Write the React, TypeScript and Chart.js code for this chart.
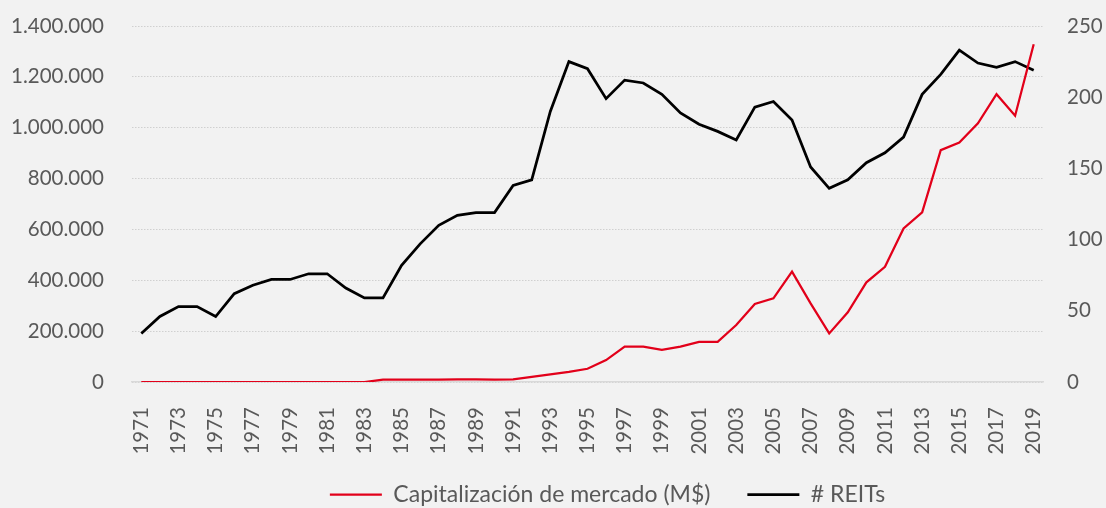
import { useEffect, useRef } from 'react';
import { Chart, registerables } from 'chart.js';

Chart.register(...registerables);

const years = [
  '1971', '1972', '1973', '1974', '1975', '1976', '1977', '1978', '1979', '1980',
  '1981', '1982', '1983', '1984', '1985', '1986', '1987', '1988', '1989', '1990',
  '1991', '1992', '1993', '1994', '1995', '1996', '1997', '1998', '1999', '2000',
  '2001', '2002', '2003', '2004', '2005', '2006', '2007', '2008', '2009', '2010',
  '2011', '2012', '2013', '2014', '2015', '2016', '2017', '2018', '2019',
];

const marketCap = [
  0, 0, 0, 0, 0, 0, 0, 0, 0, 0,
  0, 0, 0, 9000, 9000, 9500, 9500, 10000, 10000, 9500,
  10000, 20000, 30000, 40000, 52000, 86000, 139000, 139000, 126000, 139000,
  158000, 158000, 224000, 307000, 329000, 434000, 309000, 191000, 274000, 392000,
  453000, 604000, 667000, 912000, 942000, 1017000, 1132000, 1047000, 1328000,
];

const reits = [
  34, 46, 53, 53, 46, 62, 68, 72, 72, 76,
  76, 66, 59, 59, 82, 97, 110, 117, 119, 119,
  138, 142, 190, 225, 220, 199, 212, 210, 202, 189,
  181, 176, 170, 193, 197, 184, 151, 136, 142, 154,
  161, 172, 202, 216, 233, 224, 221, 225, 219,
];

const leftTicks = [0, 200000, 400000, 600000, 800000, 1000000, 1200000, 1400000];
const rightTicks = [0, 50, 100, 150, 200, 250];

const seriesNames = ['Capitalización de mercado (M$)', '# REITs'];

const fmt = (v: number) => String(Math.round(v)).replace(/\B(?=(\d{3})+(?!\d))/g, '.');

const TEXT = '#595959';
const GRID = '#d0d0d0';
const TICK_FONT = { family: 'Lato', size: 20.5 };
const LEGEND_FONT = { family: 'Lato', size: 23 };

const extendXLabelArea = {
  id: 'extendXLabelArea',
  afterLayout(chart: any) {
    const s = chart.scales.x;
    if (s) {
      s.bottom += 14;
    }
  },
};

export default function App() {
  const ref = useRef<HTMLCanvasElement | null>(null);

  useEffect(() => {
    if (!ref.current) return;
    const chart = new Chart(ref.current, {
      type: 'line',
      data: {
        labels: years,
        datasets: [
          {
            label: seriesNames[0],
            data: marketCap,
            borderColor: '#e2001a',
            backgroundColor: '#e2001a',
            borderWidth: 2.25,
            pointRadius: 0,
            tension: 0,
            yAxisID: 'y',
          },
          {
            label: seriesNames[1],
            data: reits,
            borderColor: '#000000',
            backgroundColor: '#000000',
            borderWidth: 2.75,
            pointRadius: 0,
            tension: 0,
            yAxisID: 'y1',
          },
        ],
      },
      plugins: [extendXLabelArea],
      options: {
        responsive: false,
        animation: false,
        devicePixelRatio: 1,
        layout: { padding: { left: 0, right: -109, top: 26, bottom: -8 } },
        plugins: {
          tooltip: { enabled: false },
          legend: {
            position: 'bottom',
            labels: {
              usePointStyle: true,
              pointStyle: 'line',
              pointStyleWidth: 52,
              padding: 37,
              color: TEXT,
              font: LEGEND_FONT,
            },
          },
        },
        scales: {
          x: {
            type: 'category',
            offset: true,
            grid: { display: false, drawTicks: false },
            border: { display: true, color: '#d9d9d9', width: 1.5 },
            ticks: {
              autoSkip: false,
              minRotation: 90,
              maxRotation: 90,
              padding: 25,
              color: TEXT,
              font: TICK_FONT,
              callback: (_v: any, i: number) => (i % 2 === 0 ? years[i] : ''),
            },
            afterFit: (s: any) => {
              s.height = 64;
            },
          },
          y: {
            position: 'left',
            min: 0,
            max: 1400000,
            afterBuildTicks: (s: any) => {
              s.ticks = leftTicks.map((v) => ({ value: v }));
            },
            grid: {
              color: GRID,
              lineWidth: 1,
              drawTicks: true,
              tickLength: 28,
              tickColor: 'rgba(0,0,0,0)',
            },
            border: { display: false, dash: [1.5, 1.5] },
            ticks: {
              padding: 0,
              color: TEXT,
              font: TICK_FONT,
              callback: (v: any) => fmt(Number(v)),
            },
            afterFit: (s: any) => {
              s.width = 132;
            },
          },
          y1: {
            position: 'right',
            min: 0,
            max: 250,
            afterBuildTicks: (s: any) => {
              s.ticks = rightTicks.map((v) => ({ value: v }));
            },
            grid: {
              drawOnChartArea: false,
              drawTicks: true,
              tickLength: 24,
              tickColor: 'rgba(0,0,0,0)',
            },
            border: { display: false },
            ticks: {
              padding: 0,
              color: TEXT,
              font: TICK_FONT,
              callback: (v: any) => String(v),
            },
            afterFit: (s: any) => {
              s.width = 172;
            },
          },
        },
      },
    });
    return () => chart.destroy();
  }, []);

  return (
    <div
      style={{
        position: 'fixed',
        left: 0,
        top: 0,
        width: 1106,
        height: 508,
        background: '#f2f2f2',
      }}
    >
      <canvas ref={ref} width={1106} height={508} style={{ display: 'block' }} />
    </div>
  );
}
